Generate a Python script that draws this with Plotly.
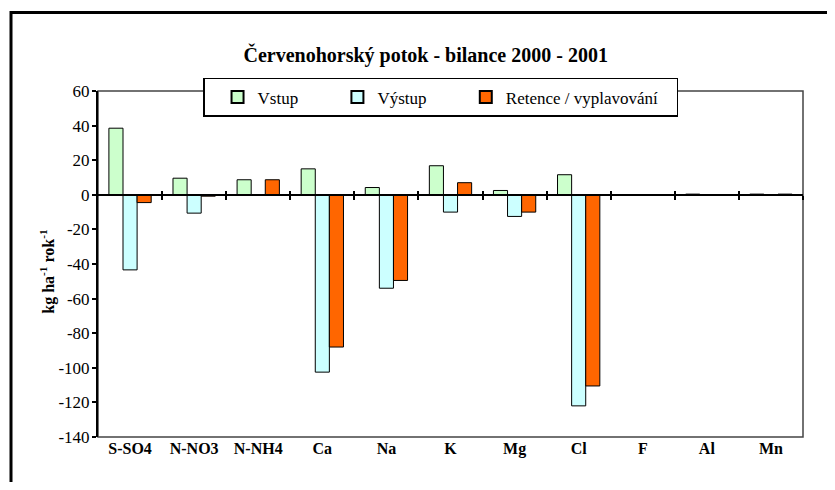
import plotly.graph_objects as go

# data
prvky = ['S-SO4', 'N-NO3', 'N-NH4', 'Ca', 'Na', 'K', 'Mg', 'Cl', 'F', 'Al', 'Mn']
vstup = [38.5, 9.6, 8.7, 15.0, 4.2, 16.8, 2.5, 11.6, 0.0, 0.4, 0.4]
vystup = [-43.4, -10.6, 0.0, -102.5, -54.0, -10.0, -12.5, -122.0, 0.0, 0.0, 0.0]
retence = [-4.5, -0.8, 8.7, -88.0, -49.5, 7.0, -10.0, -110.5, 0.0, 0.0, 0.4]
y_ticks = [60, 40, 20, 0, -20, -40, -60, -80, -100, -120, -140]
y_labels = ['60', '40', '20', '0', '-20', '-40', '-60', '-80', '-100', '-120', '-140']

serif = "'Liberation Serif', 'Times New Roman', 'DejaVu Serif', serif"
nb = '&nbsp;'

fig = go.Figure()
fig.add_trace(go.Bar(x=prvky, y=vstup, name='Vstup' + nb * 5,
                     marker=dict(color='#CCFFCC', line=dict(color='black', width=1))))
fig.add_trace(go.Bar(x=prvky, y=vystup, name='Výstup' + nb * 5,
                     marker=dict(color='#CCFFFF', line=dict(color='black', width=1))))
fig.add_trace(go.Bar(x=prvky, y=retence, name='Retence / vyplavování' + nb * 3,
                     marker=dict(color='#FF6600', line=dict(color='black', width=1))))

# page has an 8px body margin; plot area 98..803 px x 91..437 px on screen
fig.update_layout(
    width=819, height=474,
    margin=dict(l=90, r=24, t=83, b=45),
    paper_bgcolor='white', plot_bgcolor='white',
    font=dict(family=serif, color='black', size=15),
    barmode='group', bargap=0.34, bargroupgap=0,
    title=dict(text='<b>Červenohorský potok - bilance 2000 - 2001</b>',
               x=0.51, xanchor='center', y=0.9, yanchor='middle',
               font=dict(family=serif, size=20, color='black')),
    legend=dict(orientation='h', x=0.149, y=1.038, xanchor='left', yanchor='top',
                bgcolor='white', bordercolor='black', borderwidth=1.5,
                font=dict(family=serif, size=17), itemsizing='constant',
                indentation=13),
    xaxis=dict(type='category', showgrid=False, ticks='', showline=False,
               tickfont=dict(family=serif, size=16, weight='bold')),
    xaxis2=dict(overlaying='x', anchor='free', position=0.699, range=[-0.5, 10.5],
                showline=True, linecolor='black', linewidth=1.5,
                tickvals=[0.5, 1.5, 2.5, 3.5, 4.5, 5.5, 6.5, 7.5, 8.5, 9.5, 10.5],
                ticks='outside', ticklen=4, tickwidth=1.5, tickcolor='black',
                showticklabels=False, showgrid=False, zeroline=False),
    xaxis3=dict(overlaying='x', anchor='free', position=0.699, range=[-0.5, 10.5],
                showline=False,
                tickvals=[0.5, 1.5, 2.5, 3.5, 4.5, 5.5, 6.5, 7.5, 8.5, 9.5, 10.5],
                ticks='inside', ticklen=4, tickwidth=1.5, tickcolor='black',
                showticklabels=False, showgrid=False, zeroline=False),
    yaxis=dict(range=[-140, 60], tickvals=y_ticks, ticktext=y_labels,
               showgrid=False, zeroline=False,
               showline=True, linecolor='black', linewidth=2,
               ticks='outside', ticklen=4, tickwidth=1.5, tickcolor='black',
               ticklabelstandoff=-1,
               tickfont=dict(family=serif, size=17)),
)

# invisible traces so that the tick axes at zero are drawn
fig.add_trace(go.Scatter(x=[0], y=[0], xaxis='x2', mode='markers',
                         marker=dict(opacity=0), showlegend=False, hoverinfo='skip'))
fig.add_trace(go.Scatter(x=[0], y=[0], xaxis='x3', mode='markers',
                         marker=dict(opacity=0), showlegend=False, hoverinfo='skip'))

# gray plot frame and the outer black frame
fig.add_shape(type='rect', xref='paper', yref='paper', x0=0, x1=1, y0=0, y1=1,
              line=dict(color='#444444', width=1.5), layer='below')
fig.add_shape(type='rect', xref='paper', yref='paper',
              x0=-0.1234, x1=1.06, y0=-0.17, y1=1.2269,
              line=dict(color='black', width=3))

fig.add_annotation(text='<b>kg ha<sup>-1</sup> rok<sup>-1</sup></b>',
                   xref='paper', yref='paper', x=-0.089, y=0.48,
                   textangle=-90, showarrow=False,
                   font=dict(family=serif, size=16))

fig.write_html('out.html')
